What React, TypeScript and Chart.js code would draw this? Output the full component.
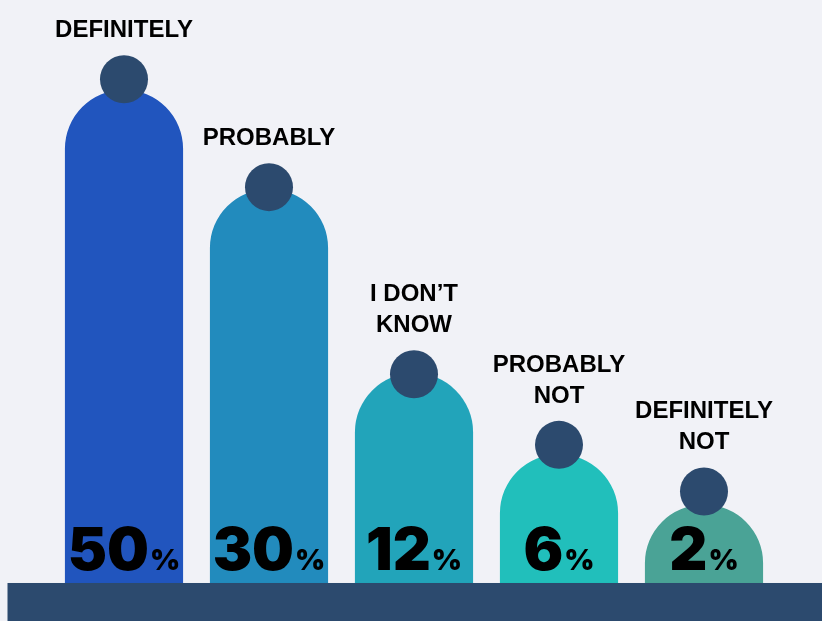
import React, { useEffect, useRef } from 'react';
import { Chart, registerables } from 'chart.js';

Chart.register(...registerables);

// ---- data ----
const categories: string[][] = [
  ['DEFINITELY'],
  ['PROBABLY'],
  ['I DON\u2019T', 'KNOW'],
  ['PROBABLY', 'NOT'],
  ['DEFINITELY', 'NOT'],
];
const percentValues = [50, 30, 12, 6, 2];
// visual bar heights (display scale 0-100 above the floor)
const barHeights = [84.6, 67.6, 36.0, 22.1, 13.4];
// visual heights of the round markers on top of each bar
const markerHeights = [86.4, 67.9, 35.8, 23.7, 15.7];
const barColors = ['#2155be', '#228bbd', '#22a4ba', '#21bfbb', '#4aa396'];

const NAVY = '#2c4a6e';
const BG = '#f1f2f7';
const FLOOR_MIN = -6.52;

const overlayPlugin = {
  id: 'overlay',
  afterDatasetsDraw(chart: any) {
    const ctx = chart.ctx;
    const yScale = chart.scales.y;
    const floorTop = yScale.getPixelForValue(0);
    const barMeta = chart.getDatasetMeta(1);
    const dotMeta = chart.getDatasetMeta(0);

    ctx.save();
    // floor
    ctx.fillStyle = NAVY;
    ctx.fillRect(7.5, floorTop, chart.width - 7.5, chart.height - floorTop);

    // labels above markers
    ctx.fillStyle = '#000';
    ctx.textAlign = 'center';
    ctx.textBaseline = 'alphabetic';
    ctx.font = 'bold 24px "Liberation Sans", Arial, sans-serif';
    const labels = chart.data.labels as string[][];
    labels.forEach((lines, i) => {
      const el = dotMeta.data[i];
      const x = barMeta.data[i].x;
      const lastBase = el.y - 42;
      const n = lines.length;
      lines.forEach((line, j) => {
        ctx.fillText(line, x, lastBase - (n - 1 - j) * 31);
      });
    });

    // percentages
    ctx.textAlign = 'left';
    const bigFont = '900 59px Inter, "Liberation Sans", sans-serif';
    const smallFont = '900 29px Inter, "Liberation Sans", sans-serif';
    percentValues.forEach((v, i) => {
      const x = barMeta.data[i].x;
      const num = String(v);
      ctx.font = bigFont;
      const nw = ctx.measureText(num).width;
      ctx.font = smallFont;
      const pw = ctx.measureText('%').width;
      const gap = 1;
      const start = x - (nw + pw + gap) / 2;
      const base = floorTop - 13;
      ctx.font = bigFont;
      ctx.fillText(num, start, base);
      ctx.font = smallFont;
      ctx.fillText('%', start + nw + gap, base);
    });
    ctx.restore();
  },
};

export default function App() {
  const ref = useRef<HTMLCanvasElement | null>(null);
  useEffect(() => {
    if (!ref.current) return;
    const chart = new Chart(ref.current, {
      type: 'bar',
      data: {
        labels: categories as any,
        datasets: [
          {
            type: 'line',
            data: markerHeights,
            showLine: false,
            pointRadius: 24,
            pointHoverRadius: 24,
            pointBackgroundColor: NAVY,
            pointBorderWidth: 0,
            borderColor: NAVY,
            clip: false,
            order: 0,
          } as any,
          {
            type: 'bar',
            data: barHeights,
            backgroundColor: barColors,
            base: FLOOR_MIN,
            borderRadius: { topLeft: 60, topRight: 60, bottomLeft: 0, bottomRight: 0 },
            borderSkipped: 'start',
            barPercentage: 0.815,
            categoryPercentage: 1,
            order: 1,
          } as any,
        ],
      },
      options: {
        responsive: false,
        animation: false,
        events: [],
        layout: { autoPadding: false, padding: { left: 51.5, right: 45.5, top: 0, bottom: 0 } },
        plugins: { legend: { display: false }, tooltip: { enabled: false } },
        scales: {
          x: { display: false, offset: true },
          y: { display: false, min: FLOOR_MIN, max: 100 },
        },
      },
      plugins: [overlayPlugin],
    });
    return () => chart.destroy();
  }, []);

  return (
    <div style={{ position: 'fixed', left: 0, top: 0, width: 822, height: 621, background: BG, overflow: 'hidden' }}>
      <canvas ref={ref} width={822} height={621} style={{ display: 'block', width: 822, height: 621 }} />
    </div>
  );
}
